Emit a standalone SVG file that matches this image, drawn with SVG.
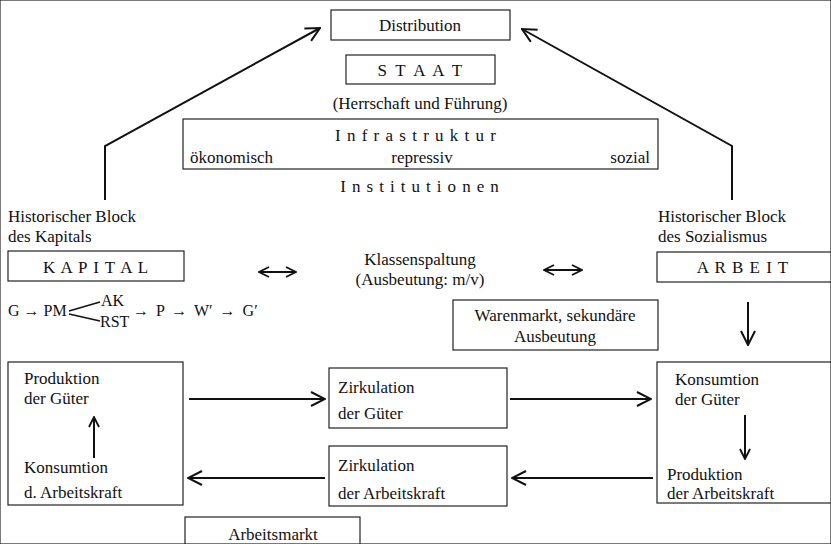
<svg xmlns="http://www.w3.org/2000/svg" width="831" height="544" viewBox="0 0 831 544">
<defs>
<style>
text{font-family:"Liberation Serif","Times New Roman",serif;font-size:17px;fill:#111}
.c{text-anchor:middle}
.f{font-size:16px}
rect{fill:none;stroke:#222;stroke-width:1.2}
.ln{fill:none;stroke:#111;stroke-width:2}
.th{fill:none;stroke:#111;stroke-width:1.5}
</style>
<marker id="ah" viewBox="0 0 12 12" refX="11" refY="6" markerWidth="12" markerHeight="12" markerUnits="userSpaceOnUse" orient="auto-start-reverse">
<path d="M1,1 L11,6 L1,11" fill="none" stroke="#111" stroke-width="1.8"/>
</marker>
<marker id="ahl" viewBox="0 0 16 16" refX="15" refY="8" markerWidth="16" markerHeight="16" markerUnits="userSpaceOnUse" orient="auto-start-reverse">
<path d="M1,1 L15,8 L1,15" fill="none" stroke="#111" stroke-width="2"/>
</marker>
</defs>
<rect x="0" y="0" width="831" height="544" fill="#fff" stroke="none"/>

<g id="distribution"><rect x="331" y="10" width="179" height="30"/><text class="c" x="420" y="31">Distribution</text></g>
<g id="staat"><rect x="346" y="55" width="149" height="29"/><text class="c" x="421" y="76" letter-spacing="2.2">S T A A T</text></g>
<g id="herrschaft"><text class="c" x="420" y="109">(Herrschaft und Führung)</text></g>
<g id="infrastruktur"><rect x="183" y="119" width="475" height="50"/>
<text class="c" x="416" y="141" letter-spacing="1">I n f r a s t r u k t u r</text>
<text x="190" y="163">ökonomisch</text>
<text class="c" x="422" y="163">repressiv</text>
<text x="650" y="163" text-anchor="end">sozial</text></g>
<g id="institutionen"><text class="c" x="420" y="192" letter-spacing="0.9">I n s t i t u t i o n e n</text></g>

<g id="block-kapital"><text x="8" y="222">Historischer Block</text><text x="8" y="242">des Kapitals</text></g>
<g id="kapital"><rect x="8" y="251" width="176" height="30"/><text class="c" x="96" y="273" letter-spacing="1">K A P I T A L</text></g>
<g id="klassenspaltung"><text class="c" x="420" y="265">Klassenspaltung</text><text class="c" x="420" y="285">(Ausbeutung: m/v)</text></g>
<g id="block-sozialismus"><text x="658" y="222">Historischer Block</text><text x="658" y="242">des Sozialismus</text></g>
<g id="arbeit"><rect x="657" y="252" width="180" height="30"/><text class="c" x="743" y="273" letter-spacing="1">A R B E I T</text></g>
<g id="warenmarkt"><rect x="453" y="300" width="205" height="50"/><text class="c" x="555" y="321">Warenmarkt, sekundäre</text><text class="c" x="555" y="342">Ausbeutung</text></g>

<g id="formel">
<text class="f" x="8" y="316">G → PM</text>
<path class="th" d="M69,311 L100,302 M69,314 L100,321"/>
<text class="f" x="101" y="306">AK</text>
<text class="f" x="100" y="327">RST</text>
<text class="f" x="133" y="316" word-spacing="3">→ P → W′ → G′</text>
</g>

<g id="kapital-kreislauf"><rect x="8" y="362" width="175" height="143"/>
<text x="24" y="384">Produktion</text><text x="24" y="404">der Güter</text>
<text x="24" y="473">Konsumtion</text><text x="24" y="498">d. Arbeitskraft</text></g>
<g id="zirk-gueter"><rect x="329" y="368" width="178" height="60"/><text x="338" y="393">Zirkulation</text><text x="338" y="419">der Güter</text></g>
<g id="zirk-arbeitskraft"><rect x="329" y="446" width="178" height="60"/><text x="338" y="471">Zirkulation</text><text x="338" y="499">der Arbeitskraft</text></g>
<g id="arbeit-kreislauf"><rect x="657" y="362" width="180" height="141"/>
<text x="675" y="385">Konsumtion</text><text x="675" y="405">der Güter</text>
<text x="667" y="480">Produktion</text><text x="667" y="499">der Arbeitskraft</text></g>
<g id="arbeitsmarkt"><rect x="185" y="517" width="175" height="40"/><text class="c" x="273" y="540">Arbeitsmarkt</text></g>

<g id="connectors">
<polyline class="ln" points="105,200 105,146 320,28" marker-end="url(#ahl)"/>
<polyline class="ln" points="732,200 732,146 522,29" marker-end="url(#ahl)"/>
<line class="ln" x1="259" y1="272" x2="296" y2="272" marker-start="url(#ah)" marker-end="url(#ah)"/>
<line class="ln" x1="544" y1="270" x2="582" y2="270" marker-start="url(#ah)" marker-end="url(#ah)"/>
<line class="ln" x1="748" y1="302" x2="748" y2="345" marker-end="url(#ahl)"/>
<line class="ln" x1="94" y1="458" x2="94" y2="417" marker-end="url(#ah)"/>
<line class="ln" x1="189" y1="399" x2="325" y2="399" marker-end="url(#ahl)"/>
<line class="ln" x1="325" y1="478" x2="188" y2="478" marker-end="url(#ahl)"/>
<line class="ln" x1="510" y1="399" x2="651" y2="399" marker-end="url(#ahl)"/>
<line class="ln" x1="653" y1="478" x2="512" y2="478" marker-end="url(#ahl)"/>
<line class="ln" x1="745" y1="415" x2="745" y2="459" marker-end="url(#ah)"/>
</g>
</svg>
